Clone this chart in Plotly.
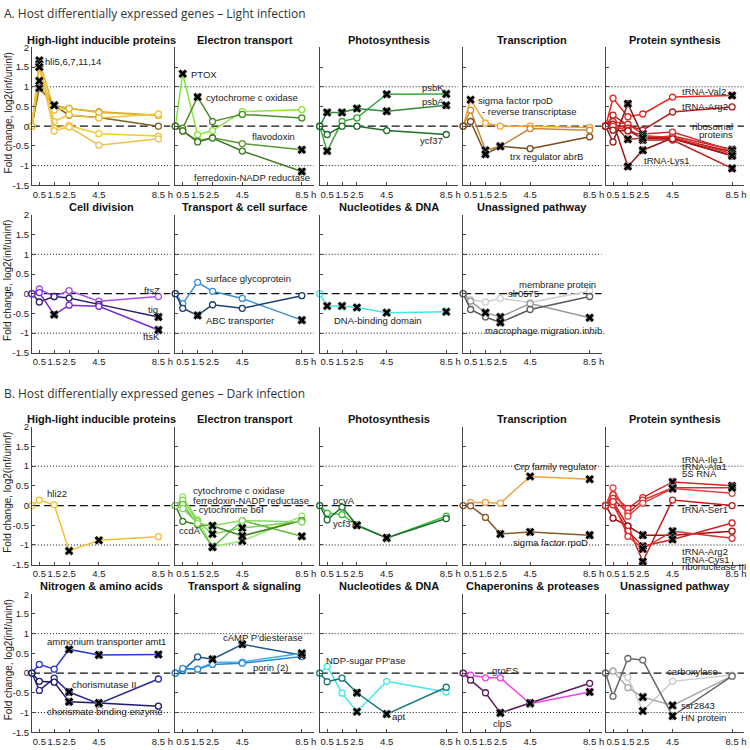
import plotly.graph_objects as go

# ------------------------------------------------------------------ data
TIMES = [0, 0.5, 1.5, 2.5, 4.5, 8.5]
X_TICKS = [0.5, 1.5, 2.5, 4.5, 8.5]
X_TICK_LABELS = ["0.5", "1.5", "2.5", "4.5", "8.5 h"]
Y_TICKS = [-1.5, -1, -0.5, 0, 0.5, 1, 1.5, 2]
Y_TICK_LABELS = ["-1.5", "-1", "-0.5", "0", "0.5", "1", "1.5", "2"]
SECTION_TITLES = ["A. Host differentially expressed genes \u2013 Light infection",
                  "B. Host differentially expressed genes \u2013 Dark infection"]
Y_TITLE = "Fold change, log2(inf/uninf)"

# ---- A. Light infection
A_HLIP = [[0, 0.97, 0.53, 0.28, 0.22, 0.00],
          [0, 1.15, 0.53, 0.45, 0.37, 0.28],
          [0, 1.67, 0.41, 0.45, 0.35, 0.27],
          [0, 1.58, 0.12, 0.29, 0.21, 0.31],
          [0, 1.50, -0.05, 0.02, -0.19, -0.25],
          [0, 1.50, -0.12, -0.02, -0.48, -0.32]]
A_HLIP_SIG = [[1, 2], [1, 2], [1], [1], [1], [1]]
A_HLIP_LABELS = ["hli5,6,7,11,14"]

A_ET = [[0, 1.33, -0.22, -0.11, 0.37, 0.42],
        [0, -0.05, 0.74, 0.12, 0.30, 0.21],
        [0, -0.12, -0.37, -0.29, -0.44, -0.60],
        [0, -0.12, -0.40, -0.30, -0.63, -1.15]]
A_ET_SIG = [[1], [2], [5], [5]]
A_ET_LABELS = ["PTOX", "cytochrome c oxidase", "flavodoxin", "ferredoxin-NADP reductase"]

A_PHOTO = [[0, -0.63, 0.12, 0.21, 0.81, 0.82],
           [0, 0.35, 0.35, 0.45, 0.38, 0.53],
           [0, -0.21, 0.00, 0.00, -0.11, -0.21]]
A_PHOTO_SIG = [[1, 4, 5], [1, 2, 3, 4, 5], []]
A_PHOTO_LABELS = ["psbK", "psbA", "ycf37"]

A_TRANS = [[0, 0.67, 0.08, 0.00, 0.00, -0.03],
           [0, 0.41, -0.61, -0.51, -0.06, -0.10],
           [0, 0.12, -0.71, -0.51, -0.57, -0.27]]
A_TRANS_SIG = [[1], [2, 3], [2, 3]]
A_TRANS_LABELS = ["sigma factor rpoD", "- reverse transcriptase", "trx regulator abrB"]

A_PROT = [[0, 0.71, 0.24, 0.31, 0.74, 0.78],
          [0, 0.28, 0.02, -0.10, 0.36, 0.49],
          [0, 0.10, -1.02, -0.61, -0.30, -0.65],
          [0, -0.40, 0.57, -0.25, -0.30, -0.75],
          [0, 0.05, -0.33, -0.30, -0.25, -0.59],
          [0, 0.12, 0.05, -0.20, -0.15, -0.62],
          [0, 0.05, -0.05, -0.35, -0.35, -1.07],
          [0, 0.00, -0.10, -0.25, -0.28, -0.70],
          [0, -0.10, -0.12, -0.30, -0.32, -0.75]]
A_PROT_SIG = [[5], [], [2, 3, 5], [2, 3, 5], [2, 3, 5], [3, 5], [3, 5], [3, 5], [3, 5]]
A_PROT_LABELS = ["tRNA-Val2", "tRNA-Arg2", "ribosomal", "proteins", "tRNA-Lys1"]

A_CELL = [[0, 0.12, -0.07, 0.08, -0.19, -0.07],
          [0, -0.21, -0.07, -0.11, -0.27, -0.59],
          [0, 0.03, -0.53, -0.29, -0.32, -0.92]]
A_CELL_SIG = [[], [5], [2, 5]]
A_CELL_LABELS = ["ftsZ", "tig", "ftsK"]

A_TRSURF = [[0, -0.25, 0.29, 0.06, -0.12, -0.67],
            [0, -0.37, -0.55, -0.28, -0.37, -0.05]]
A_TRSURF_SIG = [[5], [2]]
A_TRSURF_LABELS = ["surface glycoprotein", "ABC transporter"]

A_NUC = [[0, -0.31, -0.31, -0.35, -0.48, -0.46]]
A_NUC_SIG = [[1, 2, 3, 4, 5]]
A_NUC_LABELS = ["DNA-binding domain"]

A_UNAS = [[0, -0.15, -0.21, -0.12, -0.22, 0.07],
          [0, -0.19, -0.48, -0.59, -0.25, -0.61],
          [0, -0.40, -0.59, -0.73, -0.40, -0.07]]
A_UNAS_SIG = [[], [2, 3, 5], [3]]
A_UNAS_LABELS = ["membrane protein", "slr0575", "macrophage migration inhib."]

# ---- B. Dark infection
B_HLIP = [[0, 0.14, 0.02, -1.15, -0.88, -0.79]]
B_HLIP_SIG = [[3, 4]]
B_HLIP_LABELS = ["hli22"]

B_ET = [[0, 0.22, -0.36, -1.04, -0.90, -0.27],
        [0, 0.14, -0.40, -0.72, -0.57, -0.40],
        [0, 0.03, -0.48, -1.06, -0.38, -0.78],
        [0, -0.40, -0.48, -0.51, -0.77, -0.38],
        [0, -0.08, -0.45, -0.51, -0.38, -0.42]]
B_ET_SIG = [[3, 4], [3, 4], [3, 5], [3, 4], []]
B_ET_LABELS = ["cytochrome c oxidase", "ferredoxin-NADP reductase", "- cytochrome b6f", "ccdA"]

B_PHOTO = [[0, -0.19, -0.23, -0.50, -0.82, -0.27],
           [0, -0.36, -0.04, -0.50, -0.82, -0.33]]
B_PHOTO_SIG = [[3, 4], [3, 4]]
B_PHOTO_LABELS = ["pcyA", "ycf37"]

B_TRANS = [[0, 0.08, 0.08, 0.06, 0.74, 0.67],
           [0, -0.01, -0.30, -0.72, -0.67, -0.75]]
B_TRANS_SIG = [[4, 5], [3, 4, 5]]
B_TRANS_LABELS = ["Crp family regulator", "sigma factor rpoD"]

B_PROT = [[0, 0.27, -0.07, 0.20, 0.60, 0.50],
          [0, 0.18, -0.19, 0.14, 0.45, 0.45],
          [0, 0.45, -0.27, 0.06, 0.43, 0.31],
          [0, 0.10, -0.52, -1.42, 0.14, 0.00],
          [0, -0.32, -0.52, -0.75, -0.75, -0.65],
          [0, 0.02, -0.65, -1.03, -0.86, -0.44],
          [0, 0.10, -0.78, -1.10, -0.65, -0.83]]
B_PROT_SIG = [[4, 5], [4, 5], [4], [3], [3, 4], [3, 4], [3, 4]]
B_PROT_LABELS = ["tRNA-Ile1", "tRNA-Ala1", "5S RNA", "tRNA-Ser1", "tRNA-Arg2", "tRNA-Cys1", "ribonuclease III"]

B_NITRO = [[0, 0.22, 0.10, 0.60, 0.46, 0.47],
           [0, -0.44, -0.13, -0.48, -0.78, -0.15],
           [0, -0.21, -0.23, -0.73, -0.76, -0.84]]
B_NITRO_SIG = [[3, 4, 5], [3, 4], [3, 4]]
B_NITRO_LABELS = ["ammonium transporter amt1", "chorismutase II", "chorismate binding enzyme"]

B_TRSIG = [[0, 0.06, 0.41, 0.35, 0.73, 0.45],
           [0, 0.10, 0.10, 0.27, 0.28, 0.50],
           [0, 0.12, 0.10, 0.22, 0.25, 0.42]]
B_TRSIG_SIG = [[3, 4, 5], [5], []]
B_TRSIG_LABELS = ["cAMP P'diesterase", "porin (2)"]

B_NUC = [[0, 0.17, -0.51, -0.98, -0.21, -0.48],
         [0, -0.22, -0.13, -0.50, -1.04, -0.36]]
B_NUC_SIG = [[3], [3, 4]]
B_NUC_LABELS = ["NDP-sugar PP'ase", "apt"]

B_CHAP = [[0, -0.05, -0.12, -0.12, -0.78, -0.48],
          [0, -0.18, -0.50, -1.01, -0.76, -0.26]]
B_CHAP_SIG = [[4, 5], [3, 4]]
B_CHAP_LABELS = ["groES", "clpS"]

B_UNAS = [[0, 0.06, -0.11, -0.96, -0.21, -0.05],
          [0, 0.05, -0.37, -0.61, -0.82, -0.07],
          [0, -0.59, 0.37, 0.33, -1.09, -0.08]]
B_UNAS_SIG = [[3], [3, 4], [4]]
B_UNAS_LABELS = ["carboxylase", "ssr2843", "HN protein"]

# ------------------------------------------------------------------ styles
REDS_A = ["#e8281e", "#b41e1e", "#9a1010", "#8e1414", "#c82020", "#d82a2a", "#c01818", "#e03030", "#a81515"]
REDS_B = ["#e02020", "#d03030", "#e84040", "#c81818", "#9a1010", "#d02020", "#e03030"]

# (row, col, title, values, sig, colors, labels, label positions (x, y, anchor, yshift px))
PANELS = [
    (0, 0, "High-light inducible proteins", A_HLIP, A_HLIP_SIG,
     ["#7d6220", "#c9a02a", "#e8b828", "#f2c53a", "#f5c830", "#efc04a"],
     A_HLIP_LABELS, [(0.75, 1.65, "left", 0)]),
    (0, 1, "Electron transport", A_ET, A_ET_SIG,
     ["#86e63c", "#4c8c2a", "#5a9a34", "#3f7a25"],
     A_ET_LABELS, [(0.95, 1.31, "left", 0), (1.9, 0.73, "left", 0), (5.0, -0.27, "left", 0),
                   (1.15, -1.3, "left", 0)]),
    (0, 2, "Photosynthesis", A_PHOTO, A_PHOTO_SIG,
     ["#38a83a", "#2e8b3a", "#1f6b2a"],
     A_PHOTO_LABELS, [(8.5, 0.97, "right", 0), (8.5, 0.62, "right", 0), (8.4, -0.37, "right", 0)]),
    (0, 3, "Transcription", A_TRANS, A_TRANS_SIG,
     ["#f5a030", "#c88a3a", "#7a4c1a"],
     A_TRANS_LABELS, [(0.85, 0.65, "left", 0), (1.1, 0.37, "left", 0), (3.0, -0.78, "left", 0)]),
    (0, 4, "Protein synthesis", A_PROT, A_PROT_SIG, REDS_A,
     A_PROT_LABELS, [(5.0, 0.89, "left", 0), (5.0, 0.49, "left", 0), (8.7, 0.0, "right", 0),
                     (8.7, -0.21, "right", 0), (4.1, -0.86, "center", 0)]),
    (1, 0, "Cell division", A_CELL, A_CELL_SIG,
     ["#a64ff0", "#2e1a6a", "#7a28d8"],
     A_CELL_LABELS, [(8.75, 0.08, "right", 0), (8.6, -0.4, "right", 0), (8.75, -1.08, "right", 0)]),
    (1, 1, "Transport & cell surface", A_TRSURF, A_TRSURF_SIG,
     ["#3a90e0", "#1c3f70"],
     A_TRSURF_LABELS, [(1.95, 0.39, "left", 0), (1.95, -0.67, "left", 0)]),
    (1, 2, "Nucleotides & DNA", A_NUC, A_NUC_SIG,
     ["#40e8e8"],
     A_NUC_LABELS, [(0.8, -0.68, "left", 0)]),
    (1, 3, "Unassigned pathway", A_UNAS, A_UNAS_SIG,
     ["#cfcfcf", "#9a9a9a", "#5a5a5a"],
     A_UNAS_LABELS, [(9.05, 0.24, "right", 0), (2.9, 0.0, "left", 0), (1.35, -0.94, "left", 0)]),
    (2, 0, "High-light inducible proteins", B_HLIP, B_HLIP_SIG,
     ["#f5c02a"],
     B_HLIP_LABELS, [(0.87, 0.31, "left", 0)]),
    (2, 1, "Electron transport", B_ET, B_ET_SIG,
     ["#9cea6c", "#7cd84a", "#62c040", "#3f8028", "#8ad860"],
     B_ET_LABELS, [(1.03, 0.37, "left", 0), (1.03, 0.14, "left", 0), (1.03, -0.09, "left", 0),
                   (0.1, -0.63, "left", 0)]),
    (2, 2, "Photosynthesis", B_PHOTO, B_PHOTO_SIG,
     ["#3cbf3c", "#1e6e2e"],
     B_PHOTO_LABELS, [(0.75, 0.14, "left", 0), (0.75, -0.45, "left", 0)]),
    (2, 3, "Transcription", B_TRANS, B_TRANS_SIG,
     ["#f5a040", "#8a5a26"],
     B_TRANS_LABELS, [(9.1, 0.98, "right", 0), (8.5, -0.93, "right", 0)]),
    (2, 4, "Protein synthesis", B_PROT, B_PROT_SIG, REDS_B,
     B_PROT_LABELS, [(5.0, 1.18, "left", 0), (5.0, 0.99, "left", 0), (5.0, 0.81, "left", 0),
                     (5.0, -0.11, "left", 0), (5.0, -1.17, "left", 0), (5.0, -1.36, "left", 0),
                     (5.0, -1.5, "left", -2)]),
    (3, 0, "Nitrogen & amino acids", B_NITRO, B_NITRO_SIG,
     ["#2a3ad8", "#28289a", "#1a1a70"],
     B_NITRO_LABELS, [(0.87, 0.81, "left", 0), (2.55, -0.28, "left", 0), (0.87, -0.97, "left", 0)]),
    (3, 1, "Transport & signaling", B_TRSIG, B_TRSIG_SIG,
     ["#1e5a90", "#40b0f0", "#2a8ad8"],
     B_TRSIG_LABELS, [(3.1, 0.89, "left", 0), (5.07, 0.14, "left", 0)]),
    (3, 2, "Nucleotides & DNA", B_NUC, B_NUC_SIG,
     ["#40e8f0", "#1a7a7a"],
     B_NUC_LABELS, [(0.27, 0.31, "left", 0), (4.7, -1.1, "left", 0)]),
    (3, 3, "Chaperonins & proteases", B_CHAP, B_CHAP_SIG,
     ["#f040f0", "#5a1a5a"],
     B_CHAP_LABELS, [(2.8, 0.06, "center", 0), (2.6, -1.27, "center", 0)]),
    (3, 4, "Unassigned pathway", B_UNAS, B_UNAS_SIG,
     ["#cccccc", "#a8a8a8", "#666666"],
     B_UNAS_LABELS, [(7.7, 0.03, "right", 0), (4.9, -0.82, "left", 0), (4.9, -1.13, "left", 0)]),
]

W, H = 750, 750
COL_LEFT = [32, 176, 321, 465, 608]
PANEL_W = 139
ROW_TOP = [42, 212, 427, 597]
PANEL_H = 140
XMAX = 9.3
FONT = "Liberation Sans, Arial, sans-serif"
AXIS_COLOR = "#444444"
NBSP = "\u00a0"

fig = go.Figure()
layout = dict(width=W, height=H, margin=dict(l=0, r=0, t=0, b=0),
              paper_bgcolor="white", plot_bgcolor="white", showlegend=False,
              font=dict(family=FONT, size=10, color="#222222"))
shapes, annotations = [], []

tick_text = [t if t.find(" ") < 0 else NBSP * 3 + t for t in X_TICK_LABELS]

for (row, col, title, values, sig, colors, labels, lpos) in PANELS:
    n = row * 5 + col + 1
    xs = "" if n == 1 else str(n)
    xa, ya = "x" + xs, "y" + xs
    left, top = COL_LEFT[col], ROW_TOP[row]
    layout["xaxis" + xs] = dict(
        domain=[left / W, (left + PANEL_W) / W], range=[0, XMAX], anchor=ya,
        showline=True, linecolor=AXIS_COLOR, linewidth=1, ticks="inside", ticklen=3,
        tickcolor=AXIS_COLOR, tickvals=X_TICKS, ticktext=tick_text, tickangle=0,
        tickfont=dict(size=9.5, family=FONT, color="#222222"),
        showgrid=False, zeroline=False, fixedrange=True)
    layout["yaxis" + xs] = dict(
        domain=[1 - (top + PANEL_H) / H, 1 - top / H], range=[-1.5, 2], anchor=xa,
        showline=True, linecolor=AXIS_COLOR, linewidth=1, ticks="inside", ticklen=3,
        tickcolor=AXIS_COLOR, tickvals=Y_TICKS, ticktext=Y_TICK_LABELS,
        showticklabels=(col == 0), tickfont=dict(size=9.5, family=FONT, color="#222222"),
        showgrid=False, zeroline=False, fixedrange=True)
    # reference lines
    for yv, dash, wd in [(1, "1px,2px", 1), (-1, "1px,2px", 1), (0, "8px,4px", 1.3)]:
        shapes.append(dict(type="line", xref=xa + " domain", yref=ya, x0=0, x1=1, y0=yv, y1=yv,
                           line=dict(color="#111111", width=wd, dash=dash), layer="below"))
    # series
    for vals, c in zip(values, colors):
        fig.add_trace(go.Scatter(
            x=TIMES, y=vals, mode="lines+markers", xaxis=xa, yaxis=ya, cliponaxis=False,
            line=dict(color=c, width=1.5),
            marker=dict(symbol="circle", size=6, color="white", line=dict(color=c, width=1.3)),
            hoverinfo="skip"))
    for vals, s in zip(values, sig):
        if not s:
            continue
        fig.add_trace(go.Scatter(
            x=[TIMES[i] for i in s], y=[vals[i] for i in s], mode="markers",
            xaxis=xa, yaxis=ya, cliponaxis=False,
            marker=dict(symbol="x", size=8, color="black", line=dict(color="white", width=0.4)),
            hoverinfo="skip"))
    # panel title
    annotations.append(dict(text=title, xref="paper", yref="paper",
                            x=(left + PANEL_W / 2) / W, y=1 - (top - 8) / H,
                            xanchor="center", yanchor="middle", showarrow=False,
                            font=dict(family=FONT, size=11, color="#111111", weight="bold")))
    # gene labels
    for txt, (lx, ly, anc, ysh) in zip(labels, lpos):
        annotations.append(dict(text=txt, xref=xa, yref=ya, x=lx, y=ly, xanchor=anc,
                                yanchor="middle", yshift=ysh, showarrow=False,
                                font=dict(family=FONT, size=9.5, color="#1a1a1a")))
    # y title on first column
    if col == 0:
        annotations.append(dict(text=Y_TITLE, xref="paper", yref="paper", x=8 / W,
                                y=1 - (top + PANEL_H / 2 - 4) / H, textangle=-90,
                                xanchor="center", yanchor="middle", showarrow=False,
                                font=dict(family=FONT, size=10, color="#222222")))

for txt, ypx in zip(SECTION_TITLES, [8, 393]):
    annotations.append(dict(text=txt, xref="paper", yref="paper", x=2 / W, y=1 - ypx / H,
                            xanchor="left", yanchor="middle", showarrow=False,
                            font=dict(family="Open Sans, sans-serif", size=12, color="#333333")))

layout["shapes"] = shapes
layout["annotations"] = annotations
fig.update_layout(**layout)
fig.write_html("out.html", config={"displayModeBar": False},
               post_script="document.body.style.margin='0';document.body.style.padding='0';")
